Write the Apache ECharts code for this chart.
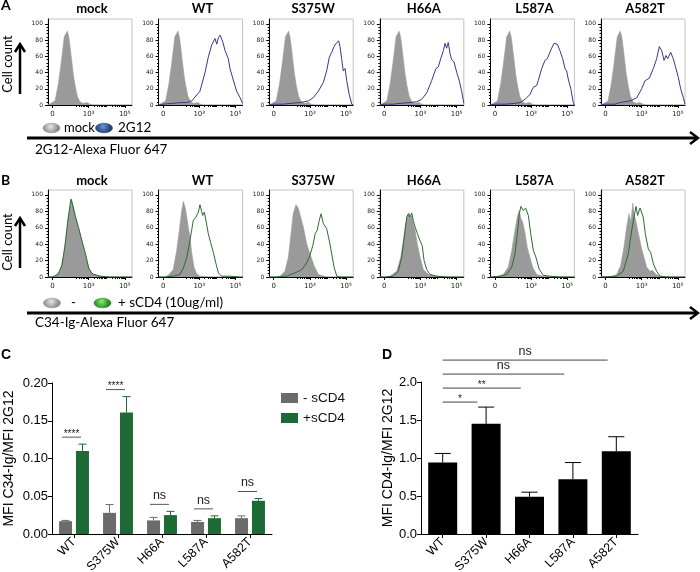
<!DOCTYPE html>
<html><head><meta charset="utf-8">
<script src="https://cdn.jsdelivr.net/npm/echarts@6/dist/echarts.min.js"></script>
<style>html,body{margin:0;padding:0;background:#fff}#c{width:700px;height:572px}</style>
</head><body><div id="c"></div><script>
// ---------- data ----------
const histTitles = ['mock', 'WT', 'S375W', 'H66A', 'L587A', 'A582T'];
const xTickValues = [0, 2, 4];
const xTickLabels = ['0', '10³', '10⁵'];
const yTickValues = [0, 20, 40, 60, 80, 100];
const yMinorTicks = [4, 8, 12, 16, 24, 28, 32, 36, 44, 48, 52, 56, 64, 68, 72, 76, 84, 88, 92, 96];

// Panel A: unstained (gray fill) — same control in every panel
const grayA = [[-0.25,0],[-0.14,0],[0.14,5],[0.32,26],[0.45,47],[0.56,67],[0.65,84],[0.75,88],[0.82,91],[0.90,84],[0.97,72],[1.06,55],[1.15,38],[1.25,24],[1.37,11],[1.52,4],[1.70,2],[1.89,3],[2.08,1],[2.24,0],[4.4,0]];
// Panel A: 2G12 staining (blue line)
const blueA_mock = [];
const blueA_WT = [[-0.25,0],[0.0,1],[0.5,2],[1.0,3],[1.3,3],[1.58,5],[2.04,17],[2.32,40],[2.50,59],[2.69,74],[2.87,82],[2.97,75],[3.06,83],[3.15,86],[3.30,78],[3.43,67],[3.61,57],[3.70,45],[3.87,32],[4.07,17],[4.26,9],[4.40,2]];
const blueA_S375W = [[-0.25,0],[0.0,1],[0.5,1],[0.90,2],[1.46,3],[1.92,5],[2.19,9],[2.47,17],[2.75,28],[2.93,42],[3.08,59],[3.21,65],[3.34,72],[3.45,76],[3.52,74],[3.60,79],[3.67,72],[3.76,57],[3.85,42],[3.95,45],[4.04,30],[4.18,13],[4.32,1],[4.4,0]];
const blueA_H66A = [[-0.25,0],[0.0,1],[0.5,1],[0.87,2],[1.42,3],[1.79,4],[2.07,7],[2.35,15],[2.62,30],[2.86,45],[2.99,47],[3.12,57],[3.27,67],[3.36,76],[3.45,70],[3.54,77],[3.64,63],[3.73,56],[3.86,53],[4.01,40],[4.15,30],[4.28,17],[4.38,5],[4.4,2]];
const blueA_L587A = [[-0.25,0],[0.0,1],[0.56,1],[1.11,2],[1.39,3],[1.67,7],[1.94,13],[2.13,22],[2.31,24],[2.40,30],[2.59,45],[2.77,55],[2.90,57],[3.01,63],[3.14,70],[3.27,76],[3.37,74],[3.45,75],[3.60,67],[3.75,57],[3.88,45],[3.97,42],[4.06,32],[4.20,20],[4.34,3],[4.4,0]];
const blueA_A582T = [[-0.25,0],[0.0,1],[0.53,1],[0.80,3],[1.36,5],[1.73,9],[2.00,20],[2.19,30],[2.42,33],[2.65,45],[2.83,57],[2.98,72],[3.11,67],[3.24,55],[3.35,61],[3.44,57],[3.61,65],[3.75,57],[3.90,45],[4.03,34],[4.16,20],[4.31,9],[4.4,1]];

// Panel B: C34-Ig without sCD4 (gray fill)
const grayB_mock = [[-0.25,0],[-0.03,0],[0.14,1],[0.41,7],[0.60,24],[0.75,49],[0.87,73],[1.01,90],[1.06,94],[1.15,86],[1.30,71],[1.48,57],[1.67,40],[1.85,24],[2.04,9],[2.26,3],[2.63,1],[3.18,0],[4.4,0]];
const grayB_WT = [[-0.25,0],[0.10,0],[0.29,2],[0.56,9],[0.75,32],[0.90,57],[1.03,81],[1.12,92],[1.23,84],[1.31,73],[1.39,61],[1.49,48],[1.58,30],[1.71,12],[1.86,4],[2.04,1],[2.60,0],[4.4,0]];
const grayB_S375W = [[-0.25,0],[0.07,0],[0.35,1],[0.62,7],[0.81,24],[0.96,53],[1.08,77],[1.23,88],[1.36,84],[1.49,73],[1.64,61],[1.83,40],[2.01,28],[2.23,14],[2.47,3],[2.93,0],[4.4,0]];
const grayB_H66A = [[-0.25,0],[0.04,0],[0.31,1],[0.69,7],[0.91,24],[1.05,44],[1.18,65],[1.29,75],[1.37,78],[1.42,71],[1.52,75],[1.60,65],[1.70,57],[1.83,40],[1.98,24],[2.16,9],[2.44,3],[2.90,1],[3.64,0],[4.4,0]];
const grayB_L587A = [[-0.25,0],[0.10,0],[0.46,3],[0.74,12],[0.93,32],[1.11,57],[1.24,73],[1.35,81],[1.44,71],[1.54,67],[1.67,53],[1.79,36],[1.94,24],[2.09,12],[2.31,3],[2.68,1],[3.33,0],[4.4,0]];
const grayB_A582T = [[-0.25,0],[0.25,0],[0.62,3],[0.84,14],[1.02,36],[1.17,61],[1.30,77],[1.41,67],[1.51,90],[1.58,77],[1.67,69],[1.78,57],[1.91,44],[2.00,34],[2.13,24],[2.28,12],[2.46,7],[2.61,8],[2.80,3],[3.02,1],[3.57,0],[4.4,0]];
// Panel B: C34-Ig with sCD4 (green line)
const greenB_mock = [[-0.25,0],[-0.03,0],[0.30,3],[0.52,14],[0.69,38],[0.83,65],[0.97,88],[1.02,95],[1.11,88],[1.25,75],[1.44,60],[1.63,44],[1.83,28],[2.00,11],[2.19,4],[2.63,1],[3.18,0],[4.4,0]];
const greenB_WT = [[-0.25,0],[0.10,0],[0.56,1],[0.93,3],[1.12,11],[1.31,24],[1.45,40],[1.58,57],[1.67,69],[1.73,67],[1.82,73],[1.95,79],[2.04,88],[2.10,90],[2.19,75],[2.28,79],[2.37,69],[2.50,53],[2.63,42],[2.78,30],[2.93,16],[3.06,5],[3.24,1],[3.70,1],[4.25,0],[4.4,0]];
const greenB_S375W = [[-0.25,0],[0.17,0],[0.72,1],[1.18,5],[1.55,9],[1.79,16],[1.97,24],[2.16,38],[2.30,53],[2.41,57],[2.52,69],[2.62,77],[2.75,65],[2.84,67],[2.93,59],[3.08,44],[3.21,28],[3.34,12],[3.49,1],[3.67,0],[4.4,0]];
const greenB_H66A = [[-0.25,0],[0.04,0],[0.50,1],[0.77,7],[0.96,24],[1.11,49],[1.24,73],[1.33,77],[1.42,73],[1.52,78],[1.60,69],[1.70,61],[1.83,53],[1.98,44],[2.10,38],[2.20,20],[2.35,9],[2.53,3],[2.90,1],[3.45,0],[4.4,0]];
const greenB_L587A = [[-0.25,0],[0.28,1],[0.65,3],[0.93,12],[1.11,28],[1.24,53],[1.35,77],[1.44,86],[1.57,81],[1.70,84],[1.85,75],[1.98,53],[2.13,32],[2.27,24],[2.46,9],[2.68,2],[3.05,1],[3.60,0],[4.4,0]];
const greenB_A582T = [[-0.25,0],[0.62,1],[0.98,7],[1.26,28],[1.45,57],[1.58,73],[1.69,86],[1.78,75],[1.91,84],[2.00,86],[2.09,73],[2.20,53],[2.37,34],[2.50,30],[2.65,16],[2.83,7],[3.02,1],[3.39,0],[4.4,0]];

const grayARows = [grayA, grayA, grayA, grayA, grayA, grayA];
const blueARows = [blueA_mock, blueA_WT, blueA_S375W, blueA_H66A, blueA_L587A, blueA_A582T];
const grayBRows = [grayB_mock, grayB_WT, grayB_S375W, grayB_H66A, grayB_L587A, grayB_A582T];
const greenBRows = [greenB_mock, greenB_WT, greenB_S375W, greenB_H66A, greenB_L587A, greenB_A582T];

// Panel C
const categories = ['WT', 'S375W', 'H66A', 'L587A', 'A582T'];
const cMinus = [0.017, 0.028, 0.018, 0.016, 0.021];
const cMinusErr = [0.018, 0.039, 0.022, 0.018, 0.024];
const cPlus = [0.110, 0.161, 0.025, 0.021, 0.044];
const cPlusErr = [0.119, 0.182, 0.030, 0.024, 0.047];
const cSigLabels = ['****', '****', 'ns', 'ns', 'ns'];
// Panel D
const dValues = [0.94, 1.45, 0.49, 0.72, 1.09];
const dErr = [1.06, 1.67, 0.55, 0.94, 1.28];
const dSigTargets = [1, 2, 3, 4];
const dSigLabels = ['*', '**', 'ns', 'ns'];

// ---------- layout ----------
const FIG_FONT = 'Lato';
const BAR_FONT = 'Liberation Sans';
const histLeft = [48, 158.6, 269.2, 379.8, 490.4, 601];
const histW = 84;
const histTop = [19, 190];
const histH = [86, 87];
const xMinorTicks = [];
[1, 2, 3].forEach(d => { for (let k = 2; k <= 9; k++) xMinorTicks.push(d + Math.log10(k)); });

const grids = [], xAxes = [], yAxes = [], series = [];

function addHist(row, col, fillData, lineData, lineColor) {
  const g = grids.length;
  grids.push({left: histLeft[col], top: histTop[row], width: histW, height: histH[row],
    show: true, borderColor: '#c4c4c4', borderWidth: 1, backgroundColor: 'transparent',
    containLabel: false, outerBoundsMode: 'none'});
  xAxes.push({gridIndex: g, type: 'value', min: -0.25, max: 4.4, position: 'bottom',
    axisLine: {show: true, onZero: false, lineStyle: {color: '#000', width: 1}},
    axisTick: {show: true, customValues: xTickValues, length: 3, lineStyle: {color: '#000'}},
    axisLabel: {show: true, customValues: xTickValues, formatter: v => xTickLabels[xTickValues.indexOf(v)],
      fontSize: 7, color: '#222', margin: 6, fontFamily: 'DejaVu Sans'},
    splitLine: {show: false}});
  xAxes.push({gridIndex: g, type: 'value', min: -0.25, max: 4.4, position: 'bottom',
    axisLine: {show: false}, axisTick: {show: true, customValues: xMinorTicks, length: 2, lineStyle: {color: '#000'}},
    axisLabel: {show: false}, splitLine: {show: false}});
  yAxes.push({gridIndex: g, type: 'value', min: 0, max: 106, position: 'left',
    axisLine: {show: true, onZero: false, lineStyle: {color: '#000', width: 1}},
    axisTick: {show: true, customValues: yTickValues, length: 3, lineStyle: {color: '#000'}},
    axisLabel: {show: true, customValues: yTickValues, fontSize: 6, color: '#222', margin: 5, fontFamily: 'DejaVu Sans'},
    splitLine: {show: false}});
  yAxes.push({gridIndex: g, type: 'value', min: 0, max: 106, position: 'left',
    axisLine: {show: false, onZero: false}, axisTick: {show: true, customValues: yMinorTicks, length: 1.5, lineStyle: {color: '#000'}},
    axisLabel: {show: false}, splitLine: {show: false}});
  series.push({type: 'line', xAxisIndex: 2 * g, yAxisIndex: 2 * g, data: fillData, symbol: 'none',
    lineStyle: {color: '#9a9a9a', width: 0.6}, areaStyle: {color: '#9a9a9a', opacity: 1}, z: 2, silent: true});
  if (lineData.length) {
    series.push({type: 'line', xAxisIndex: 2 * g, yAxisIndex: 2 * g, data: lineData, symbol: 'none',
      lineStyle: {color: lineColor, width: 1}, z: 3, silent: true});
  }
}
for (let c = 0; c < 6; c++) addHist(0, c, grayARows[c], blueARows[c], '#37378a');
for (let c = 0; c < 6; c++) addHist(1, c, grayBRows[c], greenBRows[c], '#2e6b2e');

// ---------- panel C ----------
const gC = grids.length;
grids.push({left: 52, top: 383, width: 220, height: 151, containLabel: false, outerBoundsMode: 'none'});
const axC = xAxes.length;
xAxes.push({gridIndex: gC, type: 'category', data: categories,
  axisLine: {show: true, lineStyle: {color: '#000', width: 1}},
  axisTick: {show: true, alignWithLabel: true, length: 4, lineStyle: {color: '#000'}},
  axisLabel: {rotate: 45, interval: 0, fontSize: 12.5, color: '#000', margin: 6, fontFamily: BAR_FONT},
  splitLine: {show: false}});
const ayC = yAxes.length;
yAxes.push({gridIndex: gC, type: 'value', min: 0, max: 0.2, interval: 0.05,
  axisLine: {show: true, lineStyle: {color: '#000', width: 1}},
  axisTick: {show: true, length: 4, lineStyle: {color: '#000'}},
  axisLabel: {formatter: v => v.toFixed(2), fontSize: 13, color: '#000', margin: 4, fontFamily: BAR_FONT},
  splitLine: {show: false},
  name: 'MFI C34-Ig/MFI 2G12', nameLocation: 'middle', nameRotate: 90, nameGap: 36,
  nameTextStyle: {fontSize: 14, color: '#000', fontFamily: BAR_FONT}});

// ---------- panel D ----------
const gD = grids.length;
grids.push({left: 421, top: 382, width: 217, height: 152, containLabel: false, outerBoundsMode: 'none'});
const axD = xAxes.length;
xAxes.push({gridIndex: gD, type: 'category', data: categories,
  axisLine: {show: true, lineStyle: {color: '#000', width: 1}},
  axisTick: {show: true, alignWithLabel: true, length: 4, lineStyle: {color: '#000'}},
  axisLabel: {rotate: 45, interval: 0, fontSize: 12.5, color: '#000', margin: 6, fontFamily: BAR_FONT},
  splitLine: {show: false}});
const ayD = yAxes.length;
yAxes.push({gridIndex: gD, type: 'value', min: 0, max: 2, interval: 0.5,
  axisLine: {show: true, lineStyle: {color: '#000', width: 1}},
  axisTick: {show: true, length: 4, lineStyle: {color: '#000'}},
  axisLabel: {formatter: v => v.toFixed(1), fontSize: 13, color: '#000', margin: 4, fontFamily: BAR_FONT},
  splitLine: {show: false},
  name: 'MFI CD4-Ig/MFI 2G12', nameLocation: 'middle', nameRotate: 90, nameGap: 22,
  nameTextStyle: {fontSize: 14, color: '#000', fontFamily: BAR_FONT}});

const GRAY_BAR = '#6b6b6b', GREEN_BAR = '#1d6a34';
series.push({type: 'bar', name: '- sCD4', xAxisIndex: axC, yAxisIndex: ayC, data: cMinus, barWidth: 13, barGap: '30%', itemStyle: {color: GRAY_BAR}, silent: true});
series.push({type: 'bar', name: '+sCD4', xAxisIndex: axC, yAxisIndex: ayC, data: cPlus, barWidth: 13, barGap: '30%', itemStyle: {color: GREEN_BAR}, silent: true});

function errRender(offsetPx, capHalf, color) {
  return function (params, api) {
    const i = api.value(0);
    const p0 = api.coord([i, api.value(1)]);
    const p1 = api.coord([i, api.value(2)]);
    const x = p0[0] + offsetPx;
    return {type: 'group', children: [
      {type: 'line', shape: {x1: x, y1: p0[1], x2: x, y2: p1[1]}, style: {stroke: color, lineWidth: 1}},
      {type: 'line', shape: {x1: x - capHalf, y1: p1[1], x2: x + capHalf, y2: p1[1]}, style: {stroke: color, lineWidth: 1}}
    ]};
  };
}
series.push({type: 'custom', xAxisIndex: axC, yAxisIndex: ayC, silent: true, z: 4,
  data: categories.map((c, i) => [i, cMinus[i], cMinusErr[i]]), encode: {x: 0, y: [1, 2]},
  renderItem: errRender(-8.5, 4, GRAY_BAR)});
series.push({type: 'custom', xAxisIndex: axC, yAxisIndex: ayC, silent: true, z: 4,
  data: categories.map((c, i) => [i, cPlus[i], cPlusErr[i]]), encode: {x: 0, y: [1, 2]},
  renderItem: errRender(8.5, 4, GREEN_BAR)});

function sigText(x, y, lab) {
  const star = lab.indexOf('*') >= 0;
  return {type: 'text', x: x, y: star ? y + 2 : y - 2,
    style: {text: lab, fill: '#222', font: (star ? '10px ' : '12.5px ') + BAR_FONT,
      align: 'center', verticalAlign: 'bottom', textAlign: 'center', textVerticalAlign: 'bottom'}};
}
series.push({type: 'custom', xAxisIndex: axC, yAxisIndex: ayC, silent: true, z: 4,
  data: categories.map((c, i) => [i, Math.max(cMinusErr[i], cPlusErr[i]), i]), encode: {x: 0, y: 1},
  renderItem: function (params, api) {
    const i = api.value(0);
    const pt = api.coord([i, api.value(1)]);
    const y = pt[1] - 7, x1 = pt[0] - 12, x2 = pt[0] + 7;
    return {type: 'group', children: [
      {type: 'line', shape: {x1: x1, y1: y, x2: x2, y2: y}, style: {stroke: '#555', lineWidth: 1}},
      sigText((x1 + x2) / 2, y, cSigLabels[api.value(2)])
    ]};
  }});

series.push({type: 'bar', name: 'CD4-Ig', xAxisIndex: axD, yAxisIndex: ayD, data: dValues, barWidth: 29, itemStyle: {color: '#000'}, silent: true});
series.push({type: 'custom', xAxisIndex: axD, yAxisIndex: ayD, silent: true, z: 4,
  data: categories.map((c, i) => [i, dValues[i], dErr[i]]), encode: {x: 0, y: [1, 2]},
  renderItem: errRender(0, 8, '#000')});
series.push({type: 'custom', xAxisIndex: axD, yAxisIndex: ayD, silent: true, z: 4,
  data: dSigTargets.map((t, k) => [t, Math.max.apply(null, dErr.slice(0, t + 1)), k]), encode: {x: 0, y: 1},
  renderItem: function (params, api) {
    const t = api.value(0), k = api.value(2);
    const top = api.coord([0, api.value(1)])[1];
    const y = top - 5 - 14 * k;
    const bw = api.size([1, 0])[0];
    const x1 = api.coord([0, 0])[0];
    const x2 = api.coord([t, 0])[0] - 0.2 * bw;
    return {type: 'group', children: [
      {type: 'line', shape: {x1: x1, y1: y, x2: x2, y2: y}, style: {stroke: '#444', lineWidth: 1}},
      sigText((x1 + x2) / 2, y, dSigLabels[k])
    ]};
  }});

// ---------- annotations ----------
const graphics = [];
function txt(x, y, text, font, align, rot) {
  graphics.push({type: 'text', x: x, y: y, rotation: rot || 0, silent: true,
    style: {text: text, font: font, fill: '#000', align: align || 'left', verticalAlign: 'middle',
      textAlign: align || 'left', textVerticalAlign: 'middle'}});
}
txt(1, 5, 'A', 'bold 14px ' + FIG_FONT);
txt(1, 180, 'B', 'bold 14px ' + FIG_FONT);
txt(1, 355, 'C', 'bold 14px ' + BAR_FONT);
txt(382, 355, 'D', 'bold 14px ' + BAR_FONT);
const titleY = [8.5, 181];
for (let r = 0; r < 2; r++) for (let c = 0; c < 6; c++) {
  txt(histLeft[c] + 44, titleY[r], histTitles[c], 'bold 13px ' + FIG_FONT, 'center');
}
// y arrows + "Cell count"
[[64, 44, 94], [242, 218, 268]].forEach(a => {
  txt(8, a[0], 'Cell count', '13px ' + FIG_FONT, 'center', Math.PI / 2);
  graphics.push({type: 'polyline', silent: true, shape: {points: [[20, a[2]], [20, a[1] + 1]]}, style: {stroke: '#000', lineWidth: 2.5, fill: null}});
  graphics.push({type: 'polyline', silent: true, shape: {points: [[15, a[1] + 8], [20, a[1]], [25, a[1] + 8]]}, style: {stroke: '#000', lineWidth: 2.5, fill: null}});
});
// x arrows + axis titles
[[138, '2G12-Alexa Fluor 647', 150], [313, 'C34-Ig-Alexa Fluor 647', 323]].forEach(a => {
  graphics.push({type: 'polyline', silent: true, shape: {points: [[27, a[0]], [696, a[0]]]}, style: {stroke: '#000', lineWidth: 3, fill: null}});
  graphics.push({type: 'polyline', silent: true, shape: {points: [[690, a[0] - 6], [698, a[0]], [690, a[0] + 6]]}, style: {stroke: '#000', lineWidth: 2.5, fill: null}});
  txt(35, a[2], a[1], '13.5px ' + FIG_FONT);
});
// legend ellipses
function ell(cx, cy, c0, c1) {
  graphics.push({type: 'ellipse', silent: true, shape: {cx: cx, cy: cy, rx: 8.5, ry: 4.8},
    style: {fill: {type: 'radial', x: 0.45, y: 0.35, r: 0.75, colorStops: [{offset: 0, color: c0}, {offset: 1, color: c1}]}, stroke: c1, lineWidth: 0.5}});
}
ell(51.5, 128, '#e6e6e6', '#8c8c8c'); txt(64, 128, 'mock', '13px ' + FIG_FONT);
ell(104, 128, '#6f93cc', '#1d3f78'); txt(118, 128, '2G12', '13.5px ' + FIG_FONT);
ell(52, 303, '#e6e6e6', '#8c8c8c'); txt(71, 303, '-', '13.5px ' + FIG_FONT);
ell(102.5, 303, '#8aea7a', '#1f8a1f'); txt(118, 303, '+ sCD4 (10ug/ml)', '13.5px ' + FIG_FONT);

const chart = echarts.init(document.getElementById('c'), null, {renderer: 'canvas'});
chart.setOption({
  animation: false,
  backgroundColor: '#fff',
  grid: grids, xAxis: xAxes, yAxis: yAxes, series: series,
  legend: {data: ['- sCD4', '+sCD4'], left: 276, top: 386, orient: 'vertical', itemWidth: 17, itemHeight: 10,
    itemGap: 6, icon: 'rect', selectedMode: false, textStyle: {fontSize: 13.5, color: '#111', fontFamily: BAR_FONT}},
  graphic: graphics
});
</script></body></html>
